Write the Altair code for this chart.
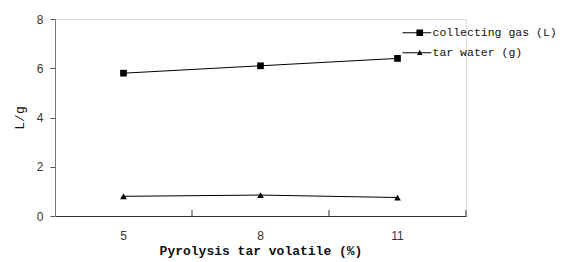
import altair as alt
import pandas as pd

volatile = ["5", "8", "11"]
gas = [5.8, 6.1, 6.4]
water = [0.8, 0.85, 0.75]
series_names = ["collecting gas (L)", "tar water (g)"]

rows = []
for c, g, w in zip(volatile, gas, water):
    rows.append({"v": c, "val": g, "s": series_names[0]})
    rows.append({"v": c, "val": w, "s": series_names[1]})
df = pd.DataFrame(rows)

tick_df = pd.DataFrame({"v": ["8", "11"]})
end_df = pd.DataFrame({"v": ["11"]})

W, H = 411, 197
MONO = "Liberation Mono"
SANS = "Liberation Sans"

xscale = alt.Scale(type="band", domain=volatile, paddingInner=0, paddingOuter=0)
x = alt.X("v:O", sort=volatile, scale=xscale,
          axis=alt.Axis(title="Pyrolysis tar volatile (%)", labelAngle=0, ticks=False,
                        domainColor="#333", labelFont=SANS, labelFontSize=12,
                        labelColor="#333", labelPadding=14,
                        titleFont=MONO, titleFontWeight="bold", titleFontSize=13,
                        titleColor="#111", titlePadding=3))
y = alt.Y("val:Q", scale=alt.Scale(domain=[0, 8]),
          axis=alt.Axis(values=[0, 2, 4, 6, 8], title="L/g", grid=False, tickSize=5,
                        tickColor="#555", domainColor="#777", labelFont=SANS,
                        labelFontSize=12, labelColor="#333", labelPadding=7,
                        titleFont=MONO, titleFontSize=13, titleFontWeight="normal",
                        titleColor="#111", titlePadding=10))

base = alt.Chart(df)

lines = base.mark_line(color="black", strokeWidth=1).encode(x=x, y=y, detail="s:N")

points = base.mark_point(filled=True, color="black", opacity=1).encode(
    x=x, y=y,
    shape=alt.Shape("s:N", scale=alt.Scale(domain=series_names, range=["square", "triangle-up"]), legend=None),
    size=alt.value(45),
)

path_sq = "M-5.2,-0.15H3.5V0.15H-5.2ZM-1,-1H1V1H-1Z"
path_tri = "M-5.2,-0.15H3.5V0.15H-5.2ZM0,-0.9L0.8,0.7H-0.8Z"

legend_layer = base.transform_filter(alt.datum.val < -100).mark_point(
    filled=True, color="black", opacity=1
).encode(
    x=x, y=y,
    shape=alt.Shape("s:N", scale=alt.Scale(domain=series_names, range=[path_sq, path_tri]),
                    legend=alt.Legend(title=None, orient="none", legendX=359, legendY=8,
                                      symbolSize=44, symbolFillColor="black",
                                      symbolOpacity=1, labelFont=MONO, labelFontSize=11.5,
                                      labelColor="#111", labelOffset=7, rowPadding=6,
                                      padding=0)),
    size=alt.value(44),
)

ticks_in = alt.Chart(tick_df).mark_rule(color="#333").encode(
    x=alt.X("v:O", sort=volatile, scale=xscale, bandPosition=0),
    y=alt.value(H), y2=alt.value(H - 6),
)
tick_end = alt.Chart(end_df).mark_rule(color="#333").encode(
    x=alt.X("v:O", sort=volatile, scale=xscale, bandPosition=1),
    y=alt.value(H), y2=alt.value(H - 6),
)

chart = alt.layer(lines, points, legend_layer, ticks_in, tick_end).resolve_scale(
    shape="independent"
).properties(
    width=W, height=H,
    autosize=alt.AutoSizeParams(type="none"),
    padding={"left": 47, "top": 11, "right": 95, "bottom": 44},
).configure_view(stroke=None).configure(background="white")

chart.save("out.html", embed_options={"renderer": "svg", "actions": False})
